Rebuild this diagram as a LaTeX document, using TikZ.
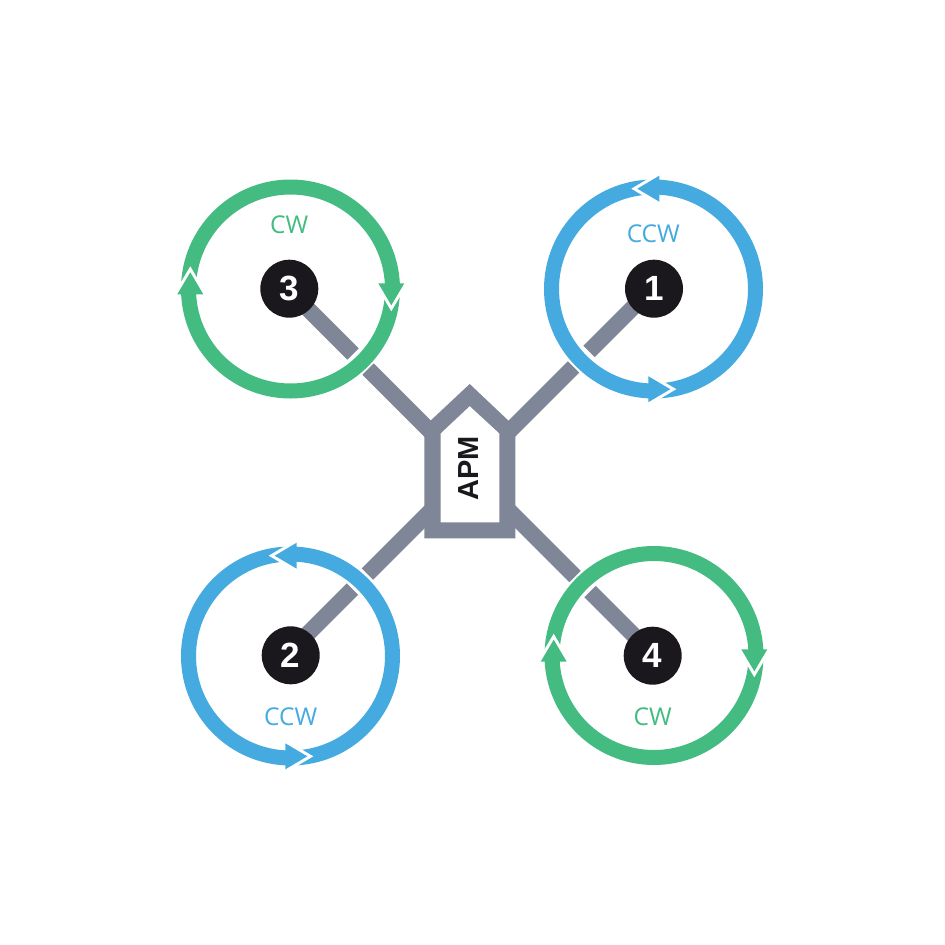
\documentclass[tikz,border=0pt]{standalone}
\usepackage{fontspec}
\setmainfont{Liberation Sans}
\newfontfamily\labelfont{Open Sans}
\usetikzlibrary{backgrounds}
\definecolor{cwgreen}{HTML}{44BB80}
\definecolor{ccwblue}{HTML}{45AAE0}
\definecolor{armgray}{HTML}{7F8697}
\definecolor{discdark}{HTML}{1A181C}
\tikzset{
  disc/.style={circle,fill=discdark,minimum size=58pt,inner sep=0pt,text=white,font=\bfseries\fontsize{35}{35}\selectfont},
  arm/.style={draw=armgray,line width=16pt,line cap=butt},
  ringline/.style={line width=15pt},
  dirlabel/.style={inner sep=0pt,font=\labelfont\fontsize{24.5}{24.5}\selectfont},
}
\newcommand{\headat}[3]{%
  \begin{scope}[shift={#1},rotate=#2]
    \fill[white] (6,-13) -- (28,0) -- (6,13) -- cycle;
    \fill[#3] (0,-13) -- (22,0) -- (0,13) -- cycle;
  \end{scope}}
\begin{document}
\begin{tikzpicture}[x=1pt,y=-1pt]
\useasboundingbox (0,0) rectangle (945,945);
% motors
\node[disc] (m3) at (289.3,288.7) {3};
\node[disc] (m1) at (654,288.7) {1};
\node[disc] (m2) at (290.7,655.3) {2};
\node[disc] (m4) at (652.7,655.7) {4};
% points of the arms: start under the disc, inner cut, outer cut, end in the body
\coordinate (s3) at (300,301);    \coordinate (i3) at (353,354);    \coordinate (o3) at (368,369);    \coordinate (b3) at (432,433);
\coordinate (s1) at (643,297.5);  \coordinate (i1) at (589,351.5);  \coordinate (o1) at (573.5,367);  \coordinate (b1) at (508,432.5);
\coordinate (s2) at (300,641.5);  \coordinate (i2) at (352.5,589);  \coordinate (o2) at (367.5,574);  \coordinate (b2) at (432,509.5);
\coordinate (s4) at (642,643.5);  \coordinate (i4) at (590,591.5);  \coordinate (o4) at (575,576.5);  \coordinate (b4) at (508,509.5);
\begin{scope}[on background layer]
  \fill[white] (0,0) rectangle (945,945);
  \draw[arm] (s3) -- (i3);
  \draw[arm] (o3) -- (b3);
  \draw[arm] (s1) -- (i1);
  \draw[arm] (o1) -- (b1);
  \draw[arm] (s2) -- (i2);
  \draw[arm] (o2) -- (b2);
  \draw[arm] (s4) -- (i4);
  \draw[arm] (o4) -- (b4);
\end{scope}
% body
\fill[armgray,even odd rule]
  (424.3,538.3) -- (515.3,538.3) -- (515.3,432) -- (508.3,420.5) -- (469.7,384) -- (430.7,420.5) -- (424.3,432) -- cycle
  (440.7,522.3) -- (499.3,522.3) -- (499.3,433.3) -- (469.7,406) -- (440.7,433.3) -- cycle;
\node[rotate=90,inner sep=0pt,text=discdark,font=\bfseries\fontsize{29}{29}\selectfont] (apm) at (468.3,468.3) {APM};
% rings
\draw[cwgreen,ringline] (290.5,289) circle[radius=102];
\draw[ccwblue,ringline] (653.5,289) circle[radius=102];
\draw[ccwblue,ringline] (290.5,656) circle[radius=102];
\draw[cwgreen,ringline] (654,655.5) circle[radius=102];
% arrowheads
\headat{(391.3,283.3)}{-90}{cwgreen}
\headat{(190.3,294.3)}{90}{cwgreen}
\headat{(659.3,188.7)}{180}{ccwblue}
\headat{(648.3,389.2)}{0}{ccwblue}
\headat{(296.7,555.7)}{180}{ccwblue}
\headat{(285.3,756.3)}{0}{ccwblue}
\headat{(553.7,661.7)}{90}{cwgreen}
\headat{(754.3,649.3)}{-90}{cwgreen}
% labels
\node[dirlabel,text=cwgreen] (l3) at (289.3,225) {CW};
\node[dirlabel,text=ccwblue] (l1) at (653.3,234) {CCW};
\node[dirlabel,text=ccwblue] (l2) at (290.7,717) {CCW};
\node[dirlabel,text=cwgreen] (l4) at (652.7,717) {CW};
\end{tikzpicture}
\end{document}
